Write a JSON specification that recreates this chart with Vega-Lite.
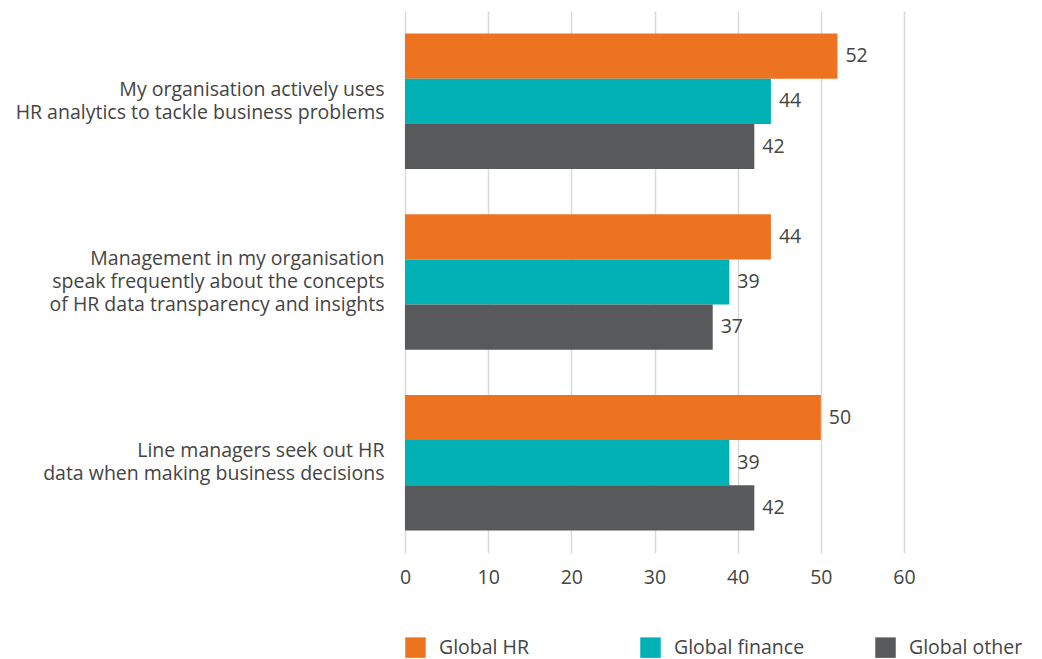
{
  "$schema": "https://vega.github.io/schema/vega-lite/v6.json",
  "width": 499,
  "height": 542,
  "autosize": {"type": "none"},
  "padding": {"left": 405, "top": 11, "right": 138, "bottom": 106},
  "config": {
    "font": "Open Sans",
    "view": {"stroke": null},
    "axis": {"labelFont": "Open Sans", "labelColor": "#444444"},
    "legend": {"labelFont": "Open Sans"}
  },
  "data": {
    "values": [
      {"question": "My organisation actively uses\nHR analytics to tackle business problems", "series": "Global HR", "value": 52},
      {"question": "My organisation actively uses\nHR analytics to tackle business problems", "series": "Global finance", "value": 44},
      {"question": "My organisation actively uses\nHR analytics to tackle business problems", "series": "Global other", "value": 42},
      {"question": "Management in my organisation\nspeak frequently about the concepts\nof HR data transparency and insights", "series": "Global HR", "value": 44},
      {"question": "Management in my organisation\nspeak frequently about the concepts\nof HR data transparency and insights", "series": "Global finance", "value": 39},
      {"question": "Management in my organisation\nspeak frequently about the concepts\nof HR data transparency and insights", "series": "Global other", "value": 37},
      {"question": "Line managers seek out HR\ndata when making business decisions", "series": "Global HR", "value": 50},
      {"question": "Line managers seek out HR\ndata when making business decisions", "series": "Global finance", "value": 39},
      {"question": "Line managers seek out HR\ndata when making business decisions", "series": "Global other", "value": 42}
    ]
  },
  "encoding": {
    "y": {
      "field": "question",
      "type": "nominal",
      "sort": null,
      "scale": {"paddingInner": 0.25, "paddingOuter": 0.125},
      "axis": {
        "title": null,
        "domain": false,
        "ticks": false,
        "labelPadding": 21,
        "labelFontSize": 19.5,
        "labelLineHeight": 23,
        "labelLimit": 500,
        "labelColor": "#444444",
        "labelOffset": {"condition": {"test": "indexof(datum.label, 'Management') == 0", "value": -23}, "value": -11.5},
        "labelExpr": "split(datum.label, '\\n')"
      }
    },
    "yOffset": {
      "field": "series",
      "type": "nominal",
      "sort": ["Global HR", "Global finance", "Global other"],
      "scale": {"paddingInner": 0, "paddingOuter": 0}
    },
    "x": {
      "field": "value",
      "type": "quantitative",
      "scale": {"domain": [0, 60], "nice": false},
      "axis": {
        "title": null,
        "values": [0, 10, 20, 30, 40, 50, 60],
        "domain": false,
        "ticks": false,
        "grid": true,
        "gridColor": "#d9d9d9",
        "gridWidth": 1.5,
        "labelFlush": false,
        "labelPadding": 15,
        "labelFontSize": 19.5,
        "labelColor": "#444444"
      }
    }
  },
  "layer": [
    {
      "mark": {"type": "bar"},
      "encoding": {
        "color": {
          "field": "series",
          "type": "nominal",
          "scale": {
            "domain": ["Global HR", "Global finance", "Global other"],
            "range": ["#EE7320", "#00B2B5", "#58595B"]
          },
          "legend": {
            "title": null,
            "orient": "none",
            "legendX": 0,
            "legendY": 626,
            "direction": "horizontal",
            "columns": 3,
            "gridAlign": "all",
            "columnPadding": 70,
            "symbolType": "square",
            "symbolSize": 420,
            "symbolStrokeWidth": 0,
            "symbolOpacity": 1,
            "labelFontSize": 19.5,
            "labelColor": "#444444",
            "labelOffset": 13,
            "labelLimit": 300
          }
        }
      }
    },
    {
      "mark": {"type": "text", "align": "left", "baseline": "middle", "dx": 8, "fontSize": 19.5, "color": "#444444"},
      "encoding": {
        "text": {"field": "value", "type": "quantitative"}
      }
    }
  ]
}
